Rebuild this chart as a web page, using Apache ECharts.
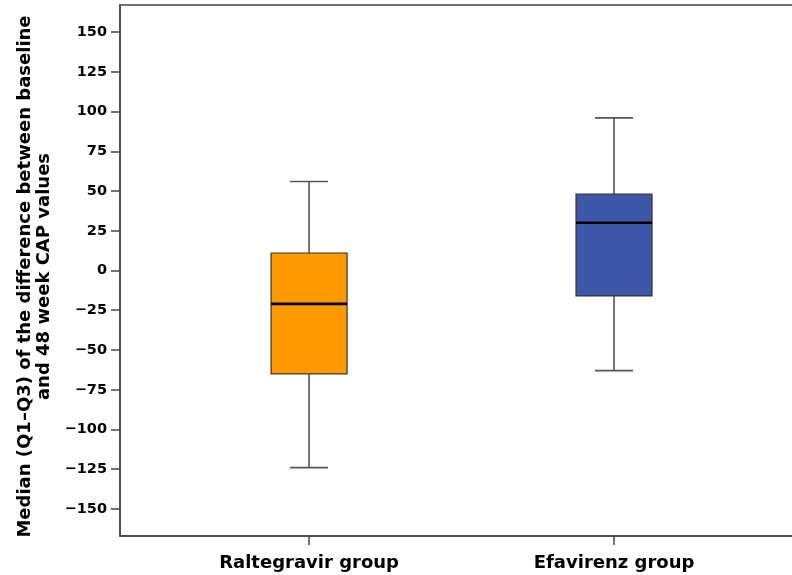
<!DOCTYPE html>
<html>
<head>
<meta charset="utf-8">
<script src="https://cdn.jsdelivr.net/npm/echarts@6/dist/echarts.min.js"></script>
<style>
  html, body { margin: 0; padding: 0; background: #ffffff; }
  #chart { width: 792px; height: 575px; }
</style>
</head>
<body>
<div id="chart"></div>
<script>
// Box-and-whisker summary per treatment group
const groups = ['Raltegravir group', 'Efavirenz group'];
const groupPos = [1, 2];
const whiskerLow = [-124, -63];
const q1 = [-65, -16];
const median = [-21, 30];
const q3 = [11, 48];
const whiskerHigh = [56, 96];
const boxColors = ['#FF9900', '#3C56A8'];
const yTicks = [-150, -125, -100, -75, -50, -25, 0, 25, 50, 75, 100, 125, 150];

const yTitle = 'Median (Q1\u2013Q3) of the difference between baseline\nand 48 week CAP values';

const boxData = groups.map((g, i) => [groupPos[i], whiskerLow[i], q1[i], median[i], q3[i], whiskerHigh[i], i]);

const FONT = '"DejaVu Sans", Verdana, sans-serif';
const FRAME = '#444444';

function renderBox(params, api) {
  const x = api.value(0);
  const lo = api.coord([x, api.value(1)]);
  const b1 = api.coord([x, api.value(2)]);
  const md = api.coord([x, api.value(3)]);
  const b3 = api.coord([x, api.value(4)]);
  const hi = api.coord([x, api.value(5)]);
  const idx = api.value(6);
  const cx = lo[0];
  const half = 38;   // half box width in px
  const cap = 19;    // half whisker-cap width in px
  const wStyle = { stroke: '#555555', lineWidth: 1.6 };
  return {
    type: 'group',
    children: [
      { type: 'line', shape: { x1: cx, y1: hi[1], x2: cx, y2: b3[1] }, style: wStyle },
      { type: 'line', shape: { x1: cx, y1: b1[1], x2: cx, y2: lo[1] }, style: wStyle },
      { type: 'line', shape: { x1: cx - cap, y1: hi[1], x2: cx + cap, y2: hi[1] }, style: wStyle },
      { type: 'line', shape: { x1: cx - cap, y1: lo[1], x2: cx + cap, y2: lo[1] }, style: wStyle },
      {
        type: 'rect',
        shape: { x: cx - half, y: b3[1], width: half * 2, height: b1[1] - b3[1] },
        style: { fill: boxColors[idx], stroke: '#333333', lineWidth: 1.2 }
      },
      { type: 'line', shape: { x1: cx - half, y1: md[1], x2: cx + half, y2: md[1] }, style: { stroke: '#000000', lineWidth: 2.6 } }
    ]
  };
}

const chart = echarts.init(document.getElementById('chart'), null, { renderer: 'canvas' });

chart.setOption({
  animation: false,
  backgroundColor: '#ffffff',
  grid: {
    left: 120, top: 5, right: -5, bottom: 39,
    show: true, borderColor: FRAME, borderWidth: 1.5, backgroundColor: 'transparent',
    outerBoundsMode: 'none'
  },
  xAxis: {
    type: 'value',
    min: 0.38,
    max: 2.6,
    axisLine: { show: true, onZero: false, lineStyle: { color: FRAME, width: 1.5 } },
    axisTick: { show: true, customValues: groupPos, length: 9, lineStyle: { color: FRAME, width: 1.5 } },
    axisLabel: {
      customValues: groupPos,
      formatter: v => groups[groupPos.indexOf(v)] || '',
      fontFamily: FONT, fontWeight: 'bold', fontSize: 18, color: '#000000', margin: 18
    },
    splitLine: { show: false }
  },
  yAxis: {
    type: 'value',
    min: -167,
    max: 167,
    name: yTitle,
    nameLocation: 'middle',
    nameRotate: 90,
    nameGap: 66,
    nameTextStyle: {
      fontFamily: FONT, fontWeight: 'bold', fontSize: 18, color: '#000000',
      lineHeight: 19, align: 'center', padding: [0, 12, 0, 0]
    },
    axisLine: { show: true, onZero: false, lineStyle: { color: FRAME, width: 1.5 } },
    axisTick: { show: true, customValues: yTicks, length: 9, lineStyle: { color: FRAME, width: 1.5 } },
    axisLabel: {
      customValues: yTicks,
      formatter: v => String(v).replace('-', '\u2212'),
      fontFamily: FONT, fontWeight: 'bold', fontSize: 14.5, color: '#000000', margin: 13
    },
    splitLine: { show: false }
  },
  series: [{
    type: 'custom',
    renderItem: renderBox,
    data: boxData,
    encode: { x: 0, y: [1, 2, 3, 4, 5] },
    clip: false
  }]
});
</script>
</body>
</html>
